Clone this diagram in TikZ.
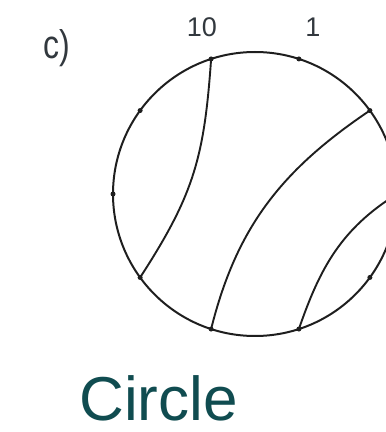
\documentclass[tikz,border=0pt]{standalone}
\usepackage{fontspec}
\setmainfont{Liberation Sans}
\usepackage{xcolor}
\usetikzlibrary{positioning,calc}
\definecolor{titleteal}{RGB}{16,76,80}
\definecolor{inkgray}{RGB}{30,30,30}
\definecolor{labelgray}{RGB}{50,56,62}

\begin{document}
\begin{tikzpicture}[
  x=1pt, y=1pt,
  rim/.style={draw=inkgray, line width=2pt},
  chord/.style={draw=inkgray, line width=1.9pt},
  dot/.style={circle, fill=inkgray, inner sep=0pt, minimum size=5pt},
  numlabel/.style={text=labelgray, font=\fontsize{27}{27}\selectfont},
  title/.style={text=titleteal, font=\fontsize{62}{62}\selectfont,
                anchor=base, inner sep=0pt}
]
  \path[use as bounding box] (0,0) rectangle (386,432);
  \begin{scope}
    \clip (0,0) rectangle (386,432);
    \coordinate (C) at (255,238);
    \draw[rim] (C) circle (142);
    % points around the rim, numbered clockwise
    \foreach \k in {1,...,10}
      \node[dot] (p\k) at ($(C)+({108-36*\k}:142)$) {};
    \draw[chord] (p10.center) to[out=266, in=57, looseness=1.1] (p7.center);
    \draw[chord] (p2.center) to[out=214, in=76] (p6.center);
    \draw[chord] (p3.center) to[out=212, in=71] (p5.center);
  \end{scope}
  \node[numlabel] (n10) at (202,405) {10};
  \node[numlabel] (n1) at (313,405) {1};
  \node[text=labelgray, font=\fontsize{40}{40}\selectfont, xscale=0.8] (part) at (57,384) {c)};
  \node[title] (name) at (158.5,12) {Circle};
\end{tikzpicture}
\end{document}
